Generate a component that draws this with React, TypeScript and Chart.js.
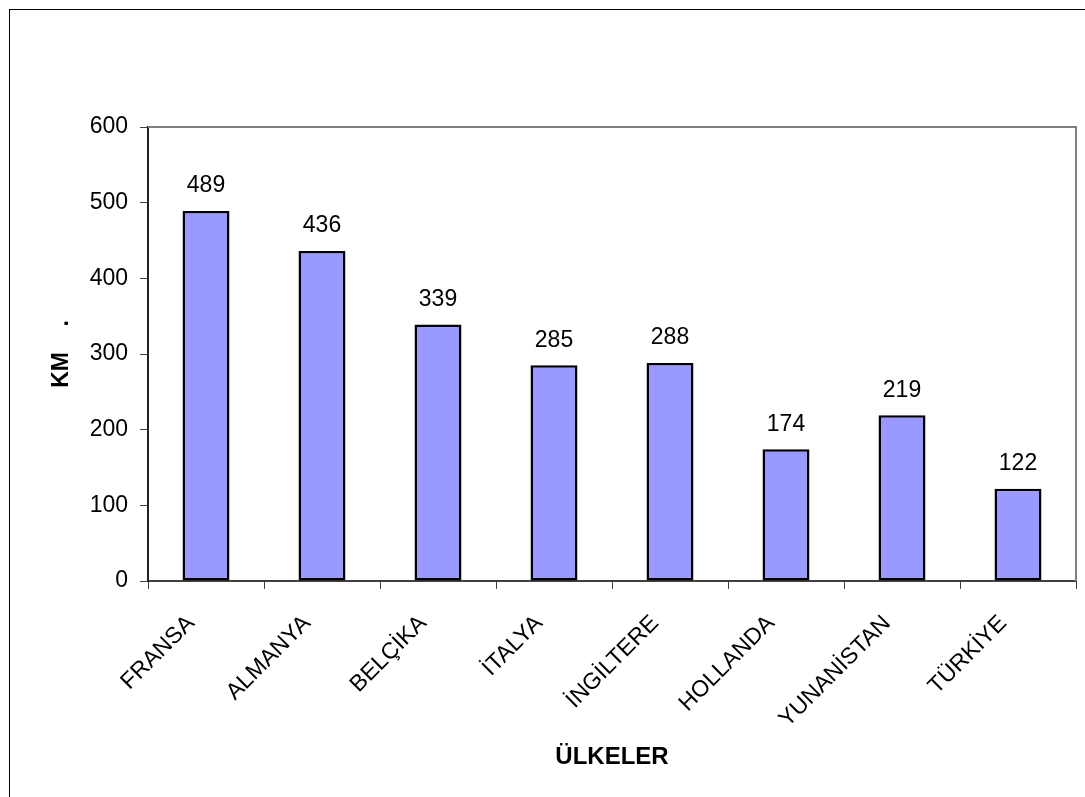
import React, { useEffect, useRef } from "react";
import { Chart, registerables } from "chart.js";

Chart.register(...registerables);

// Road length per country (km)
const countries = [
  "FRANSA",
  "ALMANYA",
  "BELÇİKA",
  "İTALYA",
  "İNGİLTERE",
  "HOLLANDA",
  "YUNANİSTAN",
  "TÜRKİYE",
];
const kmValues = [489, 436, 339, 285, 288, 174, 219, 122];
const yTickValues = [0, 100, 200, 300, 400, 500, 600];
const yAxisTitle = "KM    .";
const xAxisTitle = "ÜLKELER";

const FONT = "'Liberation Sans', Arial, sans-serif";
const BAR_FILL = "#9999FF";

// Value labels above each bar
const valueLabels = {
  id: "valueLabels",
  afterDatasetsDraw(chart: any) {
    const ctx = chart.ctx;
    const meta = chart.getDatasetMeta(0);
    ctx.save();
    ctx.font = `23px ${FONT}`;
    ctx.fillStyle = "#000";
    ctx.textAlign = "center";
    ctx.textBaseline = "middle";
    meta.data.forEach((bar: any, i: number) => {
      ctx.fillText(String(kmValues[i]), bar.x, bar.y - 25);
    });
    ctx.restore();
  },
};

// Outer chart frame plus the grey top/right edges of the plot area
const frames = {
  id: "frames",
  afterDraw(chart: any) {
    const ctx = chart.ctx;
    const { top, right, left, bottom } = chart.chartArea;
    ctx.save();
    ctx.strokeStyle = "#000";
    ctx.lineWidth = 1;
    ctx.strokeRect(9.5, 9.5, chart.width + 20, chart.height + 20);
    ctx.strokeStyle = "#808080";
    ctx.lineWidth = 2;
    ctx.beginPath();
    ctx.moveTo(left, top);
    ctx.lineTo(right, top);
    ctx.lineTo(right, bottom);
    ctx.stroke();
    ctx.restore();
  },
};

export default function App() {
  const canvasRef = useRef<HTMLCanvasElement | null>(null);

  useEffect(() => {
    const canvas = canvasRef.current;
    if (!canvas) return;
    const chart = new Chart(canvas, {
      type: "bar",
      data: {
        labels: countries,
        datasets: [
          {
            data: kmValues,
            backgroundColor: BAR_FILL,
            borderColor: "#000",
            borderWidth: 2.5,
            borderSkipped: false,
            categoryPercentage: 1,
            barPercentage: 0.405,
          },
        ],
      },
      options: {
        responsive: false,
        animation: false,
        events: [],
        layout: { padding: { top: 127, right: 9, left: 0, bottom: 0 } },
        plugins: {
          legend: { display: false },
          tooltip: { enabled: false },
        },
        scales: {
          x: {
            afterFit: (s: any) => {
              s.height = 216;
            },
            grid: {
              display: true,
              offset: true,
              drawOnChartArea: false,
              drawTicks: true,
              tickLength: 8,
              color: "#404040",
              lineWidth: 1,
            },
            border: { display: true, color: "#404040", width: 2 },
            ticks: {
              color: "#000",
              font: { family: FONT, size: 23 },
              minRotation: 45,
              maxRotation: 45,
              autoSkip: false,
              padding: 21,
              labelOffset: -15,
            },
            title: {
              display: true,
              text: xAxisTitle,
              color: "#000",
              font: { family: FONT, size: 24, weight: "bold" },
              padding: { top: 0, bottom: 25 },
            },
          },
          y: {
            min: 0,
            max: 600,
            afterFit: (s: any) => {
              s.width = 148;
            },
            afterBuildTicks: (s: any) => {
              s.ticks = yTickValues.map((v) => ({ value: v }));
            },
            grid: {
              display: true,
              drawOnChartArea: false,
              drawTicks: true,
              tickLength: 8,
              color: "#404040",
              lineWidth: 1,
            },
            border: { display: true, color: "#202020", width: 2 },
            ticks: {
              color: "#000",
              font: { family: FONT, size: 23 },
              padding: 12,
            },
            title: {
              display: true,
              text: yAxisTitle,
              color: "#000",
              font: { family: FONT, size: 23, weight: "bold" },
              padding: { top: 48, bottom: 0 },
            },
          },
        },
      },
      plugins: [valueLabels, frames],
    });
    return () => chart.destroy();
  }, []);

  return (
    <div
      style={{
        position: "fixed",
        left: 0,
        top: 0,
        width: 1085,
        height: 797,
        background: "#fff",
      }}
    >
      <canvas ref={canvasRef} width={1085} height={797} />
    </div>
  );
}
